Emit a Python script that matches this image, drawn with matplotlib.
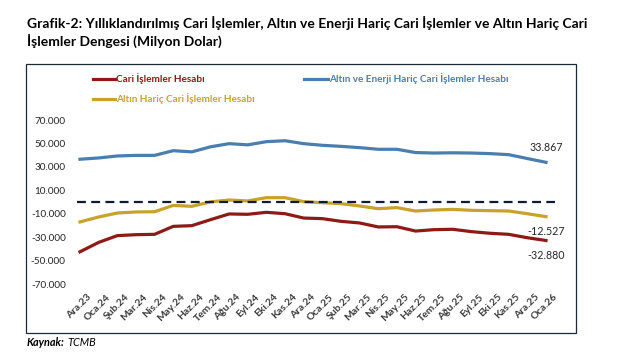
import matplotlib
matplotlib.use("Agg")
import matplotlib.pyplot as plt
import matplotlib.transforms as mtransforms
from matplotlib.lines import Line2D
from matplotlib.patches import Rectangle

# veriler (milyon dolar, yıllıklandırılmış)
aylar = ["Ara.23", "Oca.24", "Şub.24", "Mar.24", "Nis.24", "May.24", "Haz.24", "Tem.24",
         "Ağu.24", "Eyl.24", "Eki.24", "Kas.24", "Ara.24", "Oca.25", "Şub.25", "Mar.25",
         "Nis.25", "May.25", "Haz.25", "Tem.25", "Ağu.25", "Eyl.25", "Eki.25", "Kas.25",
         "Ara.25", "Oca.26"]
altin_enerji_haric = [36500, 37600, 39300, 39800, 39800, 43800, 42800, 47100, 49800, 48800,
                      51500, 52300, 49800, 48400, 47500, 46400, 45000, 45000, 42200, 41800,
                      42000, 41800, 41300, 40400, 37100, 33867]
altin_haric = [-17000, -12800, -9400, -8500, -8300, -2900, -3700, 100, 1700, 900,
               3700, 3700, 300, -600, -1400, -3400, -5700, -4800, -7700, -6800,
               -6300, -7100, -7400, -7700, -10000, -12527]
cari = [-42500, -34500, -28700, -27900, -27600, -20800, -20200, -15100, -10200, -10500,
        -8800, -10000, -13700, -14200, -16500, -17900, -21300, -21100, -24800, -23600,
        -23300, -25300, -26700, -27600, -30500, -32880]
y_ticks = [-70000, -50000, -30000, -10000, 10000, 30000, 50000, 70000]

baslik1 = "Grafik-2: Yıllıklandırılmış Cari İşlemler, Altın ve Enerji Hariç Cari İşlemler ve Altın Hariç Cari"
baslik2 = "İşlemler Dengesi (Milyon Dolar)"

KIRMIZI = "#8E1A17"
MAVI = "#4A7EAE"
SARI = "#C9A22C"

plt.rcParams["font.family"] = ["Lato", "DejaVu Sans"]

W, H = 619, 359
fig = plt.figure(figsize=(W / 100, H / 100), dpi=100)


def fx(px):
    return px / W


def fy(py):
    # görüntü koordinatı (yukarıdan) -> figür oranı
    return (H - py) / H


# çizim alanı
ax = fig.add_axes([fx(70), fy(284), fx(490), 164 / H])
ax.plot(range(len(aylar)), cari, color=KIRMIZI, lw=2.3, solid_joinstyle="round")
ax.plot(range(len(aylar)), altin_enerji_haric, color=MAVI, lw=2.3, solid_joinstyle="round")
ax.plot(range(len(aylar)), altin_haric, color=SARI, lw=2.3, solid_joinstyle="round")
ax.hlines(0, -0.16, 25.48, color="#0E1B33", lw=1.6, linestyles=(0, (4, 2.4)))

ax.set_xlim(-0.536, 25.75)
ax.set_ylim(-70000, 70000)
for s in ax.spines.values():
    s.set_visible(False)

ax.set_yticks(y_ticks)
ax.set_yticklabels([f"{v:,.0f}".replace(",", ".") for v in y_ticks], fontsize=7.2, color="#262626")
ax.set_xticks(range(len(aylar)))
ax.set_xticklabels(aylar, rotation=45, ha="right", rotation_mode="anchor",
                   fontsize=7.4, fontweight="bold", color="#3C3C3C")
ax.tick_params(axis="both", length=0)
ax.tick_params(axis="y", pad=3)
ax.tick_params(axis="x", pad=6)
kaydir = mtransforms.ScaledTranslation(7 / 100, 0, fig.dpi_scale_trans)
for lbl in ax.get_xticklabels():
    lbl.set_transform(lbl.get_transform() + kaydir)

# son değer etiketleri
son = len(aylar) - 1
for seri, dy in [(altin_enerji_haric, 15), (altin_haric, -15), (cari, -15)]:
    ax.annotate(f"{seri[son]:,.0f}".replace(",", "."), (son, seri[son]), xytext=(0, dy),
                textcoords="offset pixels", ha="center", va="center", fontsize=7.7, color="#262626")

# çerçeve
fig.patches.append(Rectangle((fx(26), fy(333)), fx(550), (333 - 64) / H, transform=fig.transFigure,
                             fill=False, edgecolor="#1E2936", lw=0.9))

# lejant
for x0, x1, y, renk, metin in [(93, 115, 79, KIRMIZI, "Cari İşlemler Hesabı"),
                               (304, 328, 79, MAVI, "Altın ve Enerji Hariç Cari İşlemler Hesabı"),
                               (93, 115, 99, SARI, "Altın Hariç Cari İşlemler Hesabı")]:
    fig.lines.append(Line2D([fx(x0), fx(x1)], [fy(y), fy(y)], transform=fig.transFigure,
                            color=renk, lw=2.3))
    fig.text(fx(x1 + 1), fy(y), metin, color=renk, fontsize=7.2, fontweight="bold",
             ha="left", va="center")

# başlık
t1 = fig.text(fx(27), fy(28), baslik1, fontsize=9, fontweight="bold", ha="left", va="baseline")
renderer = fig.canvas.get_renderer()
genislik = t1.get_window_extent(renderer).width
boyut = 9 * 563 / genislik
t1.set_fontsize(boyut)
fig.text(fx(27), fy(46), baslik2, fontsize=boyut, fontweight="bold", ha="left", va="baseline")

# kaynak
k1 = fig.text(fx(27), fy(343), "Kaynak:", fontsize=7.8, fontweight="bold", style="italic",
              ha="left", va="center")
kx = k1.get_window_extent(renderer).x1
fig.text((kx + 3) / W, fy(343), "TCMB", fontsize=7.8, style="italic", ha="left", va="center")

fig.savefig("out.png", dpi=100)
